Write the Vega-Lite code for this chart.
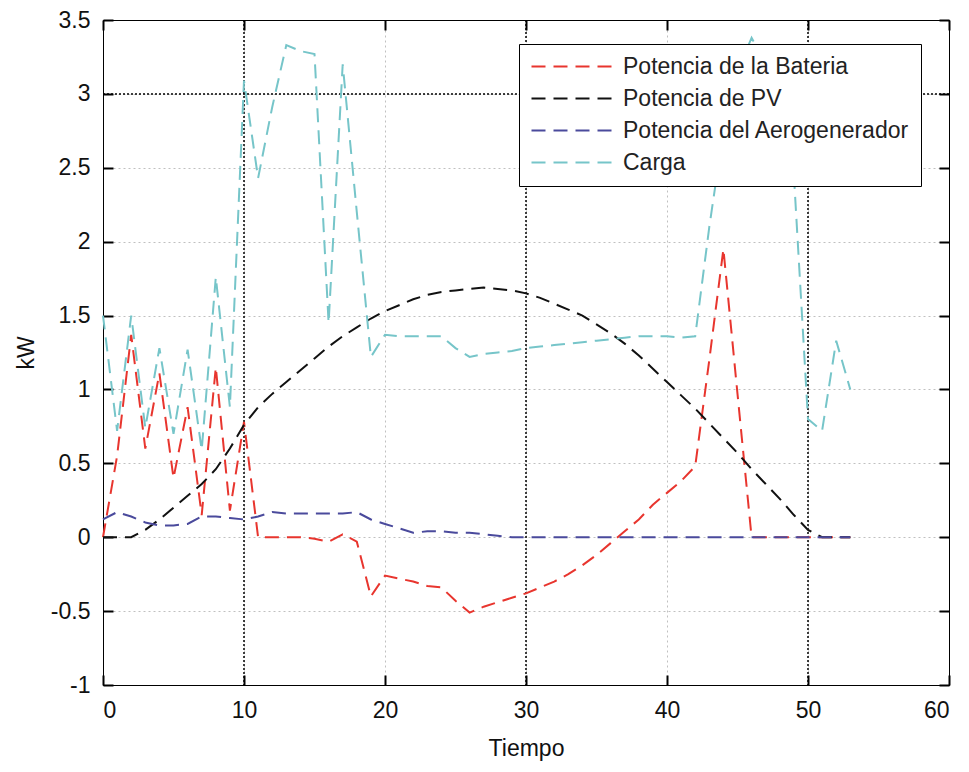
{
  "$schema": "https://vega.github.io/schema/vega-lite/v6.json",
  "width": 846,
  "height": 665,
  "autosize": {"type": "none"},
  "padding": {"left": 103, "top": 20, "right": 20, "bottom": 87},
  "background": "white",
  "config": {
    "view": {"stroke": "black", "strokeWidth": 1},
    "font": "Liberation Sans",
    "axis": {
      "labelFont": "Liberation Sans",
      "labelFontSize": 23,
      "labelColor": "#111",
      "titleFont": "Liberation Sans",
      "titleFontSize": 23,
      "titleFontWeight": "normal",
      "titleColor": "#111",
      "domainColor": "black",
      "tickColor": "black",
      "tickWidth": 2,
      "tickSize": -10,
      "gridColor": "#c0c0c0",
      "gridDash": [2, 3],
      "gridWidth": 1
    }
  },
  "datasets": {
    "series": [
      {"t": 0, "bat": 0, "pv": 0, "aero": 0.12, "carga": 1.5},
      {"t": 1, "bat": 0.55, "pv": 0, "aero": 0.17, "carga": 0.72},
      {"t": 2, "bat": 1.37, "pv": 0, "aero": 0.14, "carga": 1.5},
      {"t": 3, "bat": 0.6, "pv": 0.05, "aero": 0.1, "carga": 0.74},
      {"t": 4, "bat": 1.11, "pv": 0.12, "aero": 0.08, "carga": 1.28},
      {"t": 5, "bat": 0.4, "pv": 0.2, "aero": 0.08, "carga": 0.7},
      {"t": 6, "bat": 0.88, "pv": 0.28, "aero": 0.09, "carga": 1.27},
      {"t": 7, "bat": 0.15, "pv": 0.36, "aero": 0.14, "carga": 0.59},
      {"t": 8, "bat": 1.15, "pv": 0.46, "aero": 0.14, "carga": 1.76},
      {"t": 9, "bat": 0.18, "pv": 0.6, "aero": 0.13, "carga": 0.88},
      {"t": 10, "bat": 0.78, "pv": 0.76, "aero": 0.12, "carga": 3.09},
      {"t": 11, "bat": 0, "pv": 0.88, "aero": 0.14, "carga": 2.43},
      {"t": 12, "bat": 0, "pv": 0.97, "aero": 0.17, "carga": 2.91},
      {"t": 13, "bat": 0, "pv": 1.05, "aero": 0.16, "carga": 3.33},
      {"t": 14, "bat": 0, "pv": 1.13, "aero": 0.16, "carga": 3.29},
      {"t": 15, "bat": -0.01, "pv": 1.21, "aero": 0.16, "carga": 3.27},
      {"t": 16, "bat": -0.03, "pv": 1.29, "aero": 0.16, "carga": 1.45},
      {"t": 17, "bat": 0.02, "pv": 1.36, "aero": 0.16, "carga": 3.2},
      {"t": 18, "bat": -0.03, "pv": 1.42, "aero": 0.17, "carga": 2.2},
      {"t": 19, "bat": -0.4, "pv": 1.48, "aero": 0.12, "carga": 1.22},
      {"t": 20, "bat": -0.26, "pv": 1.53, "aero": 0.09, "carga": 1.37},
      {"t": 21, "bat": -0.28, "pv": 1.57, "aero": 0.06, "carga": 1.36},
      {"t": 22, "bat": -0.3, "pv": 1.61, "aero": 0.03, "carga": 1.36},
      {"t": 23, "bat": -0.33, "pv": 1.64, "aero": 0.04, "carga": 1.36},
      {"t": 24, "bat": -0.34, "pv": 1.66, "aero": 0.04, "carga": 1.36},
      {"t": 25, "bat": -0.43, "pv": 1.67, "aero": 0.03, "carga": 1.28},
      {"t": 26, "bat": -0.51, "pv": 1.68, "aero": 0.03, "carga": 1.22},
      {"t": 27, "bat": -0.47, "pv": 1.69, "aero": 0.02, "carga": 1.24},
      {"t": 28, "bat": -0.44, "pv": 1.68, "aero": 0.01, "carga": 1.25},
      {"t": 29, "bat": -0.41, "pv": 1.67, "aero": 0, "carga": 1.26},
      {"t": 30, "bat": -0.38, "pv": 1.65, "aero": 0, "carga": 1.28},
      {"t": 31, "bat": -0.34, "pv": 1.62, "aero": 0, "carga": 1.29},
      {"t": 32, "bat": -0.3, "pv": 1.58, "aero": 0, "carga": 1.3},
      {"t": 33, "bat": -0.25, "pv": 1.54, "aero": 0, "carga": 1.31},
      {"t": 34, "bat": -0.19, "pv": 1.5, "aero": 0, "carga": 1.32},
      {"t": 35, "bat": -0.12, "pv": 1.44, "aero": 0, "carga": 1.33},
      {"t": 36, "bat": -0.04, "pv": 1.38, "aero": 0, "carga": 1.34},
      {"t": 37, "bat": 0.04, "pv": 1.31, "aero": 0, "carga": 1.35},
      {"t": 38, "bat": 0.12, "pv": 1.23, "aero": 0, "carga": 1.36},
      {"t": 39, "bat": 0.22, "pv": 1.14, "aero": 0, "carga": 1.36},
      {"t": 40, "bat": 0.3, "pv": 1.05, "aero": 0, "carga": 1.36},
      {"t": 41, "bat": 0.38, "pv": 0.96, "aero": 0, "carga": 1.35},
      {"t": 42, "bat": 0.48, "pv": 0.87, "aero": 0, "carga": 1.36},
      {"t": 43, "bat": 1.2, "pv": 0.77, "aero": 0, "carga": 2.1},
      {"t": 44, "bat": 1.95, "pv": 0.67, "aero": 0, "carga": 2.75},
      {"t": 45, "bat": 0.97, "pv": 0.57, "aero": 0, "carga": 3.15},
      {"t": 46, "bat": 0, "pv": 0.46, "aero": 0, "carga": 3.38},
      {"t": 47, "bat": 0, "pv": 0.36, "aero": 0, "carga": 3.2},
      {"t": 48, "bat": 0, "pv": 0.26, "aero": 0, "carga": 2.85},
      {"t": 49, "bat": 0, "pv": 0.15, "aero": 0, "carga": 2.45},
      {"t": 50, "bat": 0, "pv": 0.05, "aero": 0, "carga": 0.8},
      {"t": 51, "bat": 0, "pv": 0, "aero": 0, "carga": 0.72},
      {"t": 52, "bat": 0, "pv": 0, "aero": 0, "carga": 1.33},
      {"t": 53, "bat": 0, "pv": 0, "aero": 0, "carga": 1.0}
    ],
    "vlines": [{"t": 10}, {"t": 30}, {"t": 50}],
    "hlines": [{"v": 3}]
  },
  "layer": [
    {
      "data": {"name": "vlines"},
      "mark": {"type": "rule", "color": "black", "strokeDash": [2, 2], "strokeWidth": 1.5},
      "encoding": {
        "x": {
          "field": "t", "type": "quantitative",
          "scale": {"domain": [0, 60], "nice": false},
          "axis": {"orient": "top", "labels": false, "title": null, "grid": false, "domain": true,
                   "values": [0, 10, 20, 30, 40, 50, 60]}
        }
      }
    },
    {
      "data": {"name": "hlines"},
      "mark": {"type": "rule", "color": "black", "strokeDash": [2, 2], "strokeWidth": 1.5},
      "encoding": {
        "y": {
          "field": "v", "type": "quantitative",
          "scale": {"domain": [-1, 3.5], "nice": false, "zero": false},
          "axis": {"orient": "right", "labels": false, "title": null, "grid": false, "domain": true,
                   "values": [-1, -0.5, 0, 0.5, 1, 1.5, 2, 2.5, 3, 3.5]}
        }
      }
    },
    {
      "data": {"name": "series"},
      "transform": [{"fold": ["bat", "pv", "aero", "carga"], "as": ["s", "kW"]}],
      "mark": {"type": "line", "strokeWidth": 2, "strokeDash": [14, 8]},
      "encoding": {
        "x": {
          "field": "t", "type": "quantitative",
          "scale": {"domain": [0, 60], "nice": false},
          "axis": {"orient": "bottom", "title": "Tiempo", "grid": true, "labelPadding": 24, "titlePadding": 15,
                   "values": [0, 10, 20, 30, 40, 50, 60], "format": "d"}
        },
        "y": {
          "field": "kW", "type": "quantitative",
          "scale": {"domain": [-1, 3.5], "nice": false, "zero": false},
          "axis": {"orient": "left", "title": "kW", "grid": true, "labelPadding": 23, "titlePadding": 12,
                   "values": [-1, -0.5, 0, 0.5, 1, 1.5, 2, 2.5, 3, 3.5],
                   "labelExpr": "'' + datum.value"}
        },
        "color": {
          "field": "s", "type": "nominal",
          "scale": {"domain": ["bat", "pv", "aero", "carga"],
                    "range": ["#E8352E", "#111111", "#4A4A9C", "#76C5C9"]},
          "legend": {
            "orient": "none", "legendX": 416, "legendY": 24, "title": null,
            "symbolType": "M-1,0H7", "symbolSize": 400, "symbolStrokeWidth": 2,
            "symbolDash": [14, 8], "labelFontSize": 23, "labelFont": "Liberation Sans",
            "labelLimit": 500,
            "labelColor": "#222", "fillColor": "white", "strokeColor": "black",
            "padding": 11, "labelOffset": 70, "rowPadding": 8,
            "labelExpr": "datum.label == 'bat' ? 'Potencia de la Bateria' : datum.label == 'pv' ? 'Potencia de PV' : datum.label == 'aero' ? 'Potencia del Aerogenerador' : 'Carga'"
          }
        }
      }
    }
  ],
  "resolve": {"axis": {"x": "independent", "y": "independent"}}
}
